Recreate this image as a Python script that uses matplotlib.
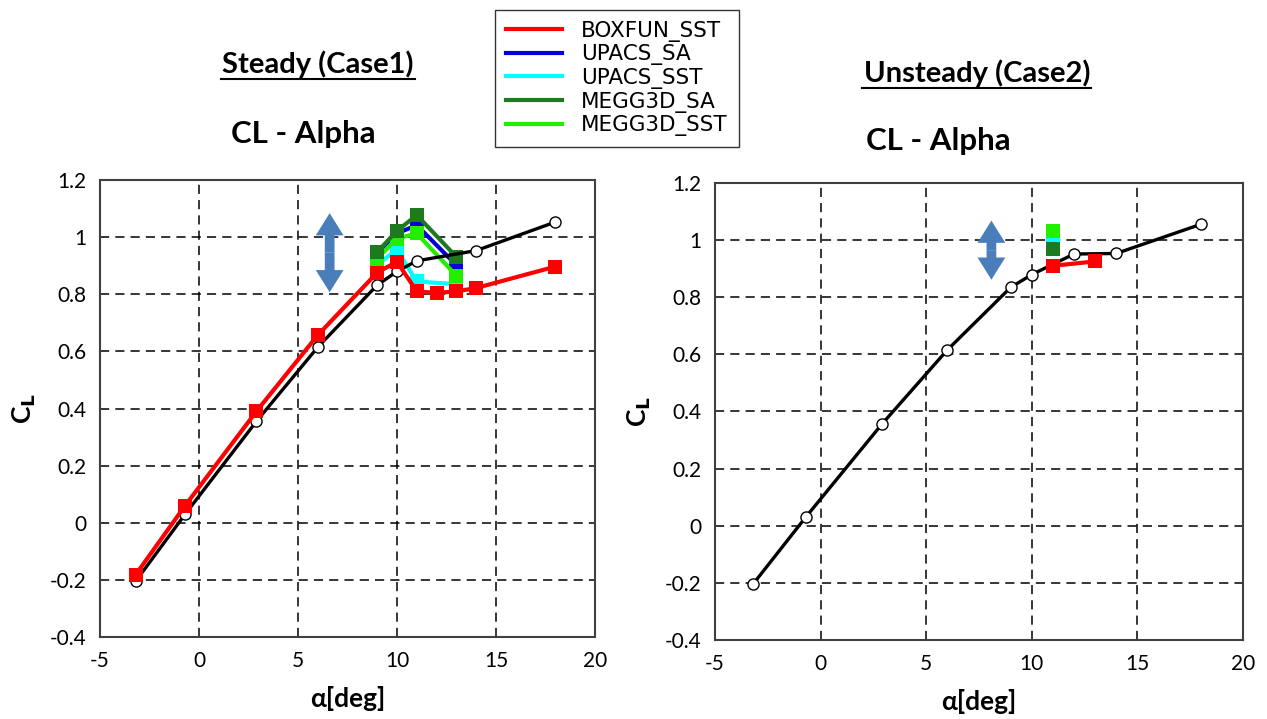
import matplotlib
matplotlib.use('Agg')
import matplotlib.pyplot as plt
from matplotlib.lines import Line2D

# experiment (black, open circles)
exp_alpha_steady = [-3.2, -0.7, 2.9, 6.0, 9.0, 10.0, 11.0, 14.0, 18.0]
exp_cl_steady = [-0.205, 0.03, 0.355, 0.615, 0.832, 0.88, 0.917, 0.953, 1.053]
exp_alpha_unsteady = [-3.2, -0.7, 2.9, 6.0, 9.0, 10.0, 12.0, 14.0, 18.0]
exp_cl_unsteady = [-0.205, 0.03, 0.355, 0.615, 0.834, 0.879, 0.951, 0.953, 1.055]

# steady CFD results
boxfun_alpha = [-3.2, -0.7, 2.9, 6.0, 9.0, 10.0, 11.0, 12.0, 13.0, 14.0, 18.0]
boxfun_cl = [-0.182, 0.06, 0.39, 0.657, 0.876, 0.914, 0.81, 0.805, 0.81, 0.822, 0.897]
cluster_alpha = [9.0, 10.0, 11.0, 13.0]
upacs_sa_cl = [0.945, 1.013, 1.042, 0.902]
upacs_sst_cl = [0.905, 0.955, 0.845, 0.835]
megg_sa_cl = [0.948, 1.022, 1.077, 0.931]
megg_sst_cl = [0.925, 0.995, 1.013, 0.865]

# unsteady CFD results
boxfun_alpha_u = [11.0, 13.0]
boxfun_cl_u = [0.91, 0.925]
single_alpha_u = [11.0]
upacs_sst_cl_u = [1.0]
megg_sa_cl_u = [0.97]
megg_sst_cl_u = [1.03]

labels = ['BOXFUN_SST', 'UPACS_SA', 'UPACS_SST', 'MEGG3D_SA', 'MEGG3D_SST']
colors = ['#ff0000', '#0000dd', '#00ffff', '#1e7a1e', '#22ee00']

xticks = [-5, 0, 5, 10, 15, 20]
yticks = [-0.4, -0.2, 0, 0.2, 0.4, 0.6, 0.8, 1.0, 1.2]

plt.rcParams['font.family'] = ['Lato', 'DejaVu Sans']

fig = plt.figure(figsize=(12.67, 7.19), dpi=100)
ax1 = fig.add_axes([0.0789, 0.114, 0.3907, 0.6356])
ax2 = fig.add_axes([0.5643, 0.110, 0.4167, 0.6356])


def setup_axes(ax):
    ax.set_xlim(-5, 20)
    ax.set_ylim(-0.4, 1.2)
    ax.set_xticks(xticks)
    ax.set_yticks(yticks)
    ax.set_xticklabels([f'{t:g}' for t in xticks])
    ax.set_yticklabels([f'{t:g}' for t in yticks])
    ax.tick_params(length=0, labelsize=15, pad=10)
    ax.grid(True, color='black', linestyle=(0, (6, 4)), linewidth=1.1)
    for s in ax.spines.values():
        s.set_color('#404040')
        s.set_linewidth(1.5)
    ax.set_xlabel('α[deg]', fontsize=19, fontweight='bold', labelpad=11)
    ax.set_ylabel(r'C$_\mathbf{L}$', fontsize=19, fontweight='bold', labelpad=8)


def plot_exp(ax, x, y):
    ax.plot(x, y, color='black', lw=2.4, marker='o', ms=8, mfc='white',
            mec='black', mew=1.0, zorder=3)


def double_arrow(ax, x, y0, y1):
    # two single-headed arrows pointing out from the middle
    mid = (y0 + y1) / 2
    style = 'simple,head_length=1.6,head_width=2.0,tail_width=0.7'
    for end in (y0, y1):
        ax.annotate('', xy=(x, end), xytext=(x, mid),
                    arrowprops=dict(arrowstyle=style, lw=0, color='#4a7ebb',
                                    mutation_scale=10, shrinkA=0, shrinkB=0))


sq = dict(marker='s', ms=9.5, lw=3, mew=0)

# left: steady
setup_axes(ax1)
ax1.plot(cluster_alpha, upacs_sst_cl, color=colors[2], zorder=2.0, **sq)
ax1.plot(cluster_alpha, upacs_sa_cl, color=colors[1], zorder=2.1, **sq)
ax1.plot(cluster_alpha, megg_sst_cl, color=colors[4], zorder=2.2, **sq)
ax1.plot(cluster_alpha, megg_sa_cl, color=colors[3], zorder=2.3, **sq)
plot_exp(ax1, exp_alpha_steady, exp_cl_steady)
ax1.plot(boxfun_alpha, boxfun_cl, color=colors[0], zorder=4, **sq)
double_arrow(ax1, 6.6, 0.807, 1.084)

# right: unsteady
setup_axes(ax2)
ax2.plot(single_alpha_u, upacs_sst_cl_u, color=colors[2], zorder=2.0, **sq)
ax2.plot(single_alpha_u, megg_sst_cl_u, color=colors[4], zorder=2.2, **sq)
ax2.plot(single_alpha_u, megg_sa_cl_u, color=colors[3], zorder=2.3, **sq)
plot_exp(ax2, exp_alpha_unsteady, exp_cl_unsteady)
ax2.plot(boxfun_alpha_u, boxfun_cl_u, color=colors[0], zorder=4, **sq)
double_arrow(ax2, 8.09, 0.861, 1.068)

# titles
fig.text(318 / 1267, 1 - 64 / 719, 'Steady (Case1)', fontsize=21,
         fontweight='bold', ha='center', va='center')
fig.add_artist(Line2D([221 / 1267, 415 / 1267], [1 - 79 / 719, 1 - 79 / 719],
                      color='black', lw=1.5))
fig.text(303 / 1267, 1 - 134 / 719, 'CL - Alpha', fontsize=22.5,
         fontweight='bold', ha='center', va='center')
fig.text(977 / 1267, 1 - 73 / 719, 'Unsteady (Case2)', fontsize=21,
         fontweight='bold', ha='center', va='center')
fig.add_artist(Line2D([862 / 1267, 1091 / 1267], [1 - 88 / 719, 1 - 88 / 719],
                      color='black', lw=1.5))
fig.text(938 / 1267, 1 - 141 / 719, 'CL - Alpha', fontsize=22.5,
         fontweight='bold', ha='center', va='center')

# legend
handles = [Line2D([0], [0], color=c, lw=3) for c in colors]
leg = fig.legend(handles, labels, loc='upper left',
                 bbox_to_anchor=(495 / 1267, 1 - 10 / 719),
                 prop={'family': 'DejaVu Sans', 'size': 15.5},
                 frameon=True, fancybox=False, edgecolor='black',
                 handlelength=2.6, labelspacing=0.12, borderpad=0.5,
                 handletextpad=0.9, borderaxespad=0)
leg.get_frame().set_linewidth(1.0)

fig.savefig('out.png', dpi=100)
